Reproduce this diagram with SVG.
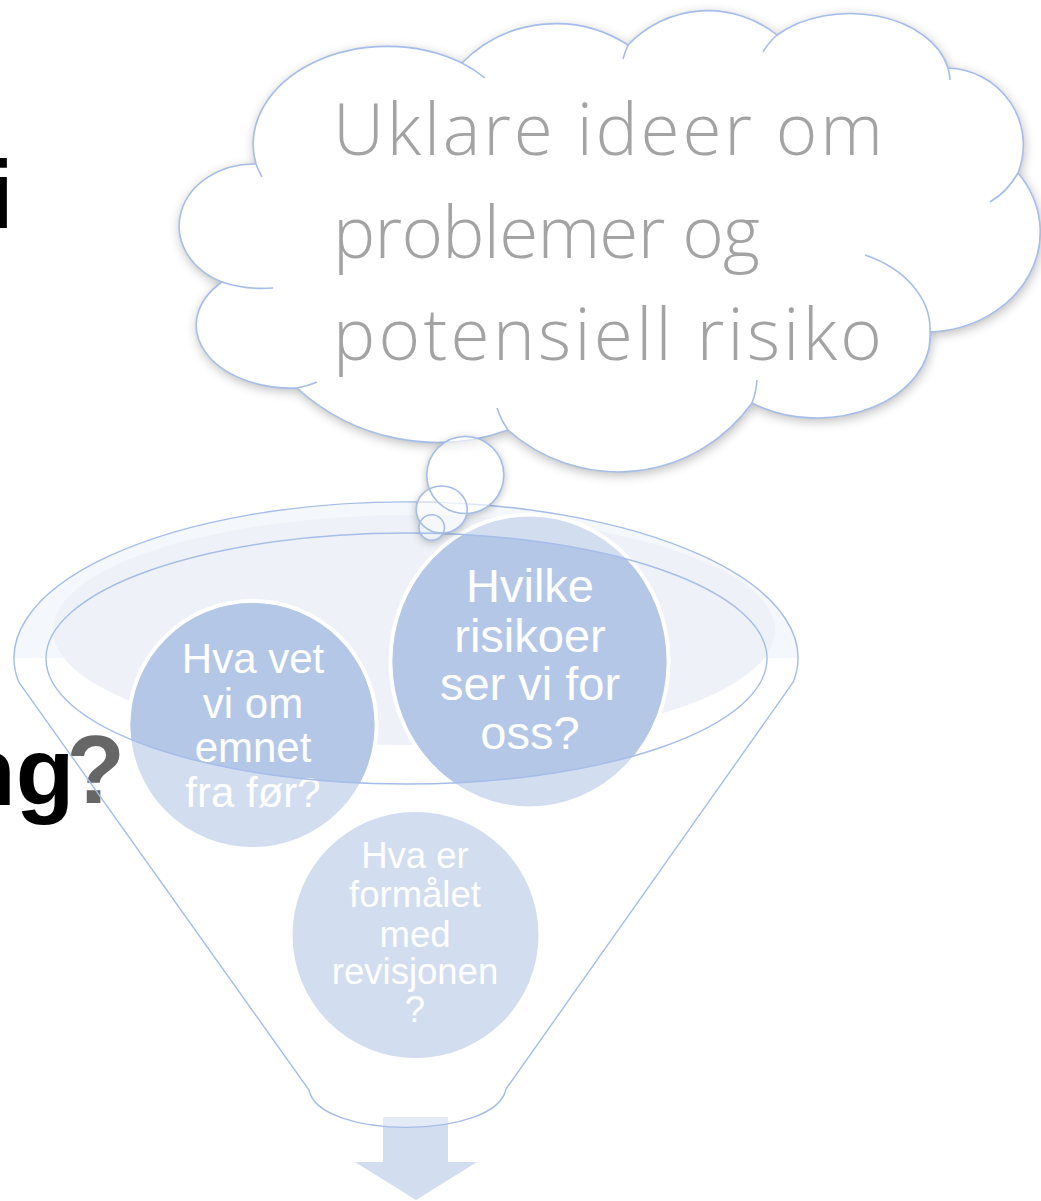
<svg xmlns="http://www.w3.org/2000/svg" width="1041" height="1201" viewBox="0 0 1041 1201">
<defs>
<style>
.title{font-family:"Liberation Sans",Arial,sans-serif;font-weight:bold;font-size:96px}
.ln{fill:none;stroke:#a5bde8;stroke-width:1.4}
.cl{fill:none;stroke:#a5bde8;stroke-width:1.6}
.ct{font-family:"Liberation Sans",Arial,sans-serif;fill:#ffffff;text-anchor:middle}
.cloudtxt{font-family:"Open Sans","DejaVu Sans",sans-serif;font-weight:300;font-size:71px;fill:#a3a3a3}
.dark{fill:#b4c7e7}
.light{fill:#d3ddf0}
</style>
<filter id="sh" x="-20%" y="-20%" width="140%" height="140%">
<feGaussianBlur in="SourceAlpha" stdDeviation="6"/>
<feOffset dx="1" dy="3"/>
<feComponentTransfer><feFuncA type="linear" slope="0.28"/></feComponentTransfer>
<feMerge><feMergeNode/><feMergeNode in="SourceGraphic"/></feMerge>
</filter>
<filter id="shout" x="-40%" y="-40%" width="180%" height="180%">
<feGaussianBlur in="SourceAlpha" stdDeviation="5"/>
<feOffset dx="0" dy="2"/>
<feComposite operator="out" in2="SourceAlpha"/>
<feComponentTransfer><feFuncA type="linear" slope="0.3"/></feComponentTransfer>
</filter>
<clipPath id="inner"><ellipse cx="406.5" cy="658.5" rx="360.5" ry="125.5"/></clipPath>
<clipPath id="bodyclip"><path d="M18.7,682 A392,156 0 1 1 793.3,682 L506,1089 C496,1140 319,1140 309,1090 Z"/></clipPath>
</defs>

<g id="title">
<text class="title" x="-13" y="228" fill="#000">i</text>
<text class="title" x="-43" y="805" fill="#000">ng<tspan fill="#666" dx="-8" dy="-2">?</tspan></text>
</g>

<g id="arrow">
<rect x="383" y="1117" width="65" height="45" fill="#d3ddf0"/>
<polygon points="355,1162 477,1162 416,1200" fill="#d3ddf0"/>
<rect x="383" y="1117" width="65" height="14" fill="#e4eaf6" clip-path="url(#bodyclip)"/>
</g>

<g id="funnel-fill">
<path d="M14,658 A392,156 0 0 1 798,658 Z" fill="#f4f7fb"/>
<ellipse cx="414" cy="630" rx="361" ry="115" fill="#eef2f8"/>
</g>

<g id="node-hva-vet">
<circle cx="252.5" cy="725" r="124" class="light" stroke="#fff" stroke-width="4"/>
<circle cx="252.5" cy="725" r="122" class="dark" clip-path="url(#inner)"/>
<text class="ct" font-size="42"><tspan x="253" y="673">Hva vet</tspan><tspan x="253" y="718">vi om</tspan><tspan x="253" y="762">emnet</tspan><tspan x="253" y="807">fra før?</tspan></text>
</g>

<g id="node-hvilke">
<ellipse cx="529.5" cy="661.5" rx="139" ry="147" class="light" stroke="#fff" stroke-width="4"/>
<ellipse cx="529.5" cy="661.5" rx="137" ry="145" class="dark" clip-path="url(#inner)"/>
<text class="ct" font-size="47"><tspan x="530" y="602">Hvilke</tspan><tspan x="530" y="652">risikoer</tspan><tspan x="530" y="700">ser vi for</tspan><tspan x="530" y="749">oss?</tspan></text>
</g>

<g id="node-formal">
<circle cx="415.5" cy="935" r="123" class="light"/>
<text class="ct" font-size="36.5"><tspan x="415" y="868">Hva er</tspan><tspan x="415" y="907">formålet</tspan><tspan x="415" y="947">med</tspan><tspan x="415" y="984">revisjonen</tspan><tspan x="415" y="1022">?</tspan></text>
</g>

<g id="connectors">
<path class="ln" d="M18.7,682 A392,156 0 1 1 793.3,682 L506,1089 C496,1140 319,1140 309,1090 Z"/>
<ellipse class="ln" cx="406.5" cy="658.5" rx="360.5" ry="125.5"/>
</g>

<g id="cloud">
<path d="M256,164 A134,98 0 0 1 462,63 A132,132 0 0 1 628,45 A110,110 0 0 1 777,35 A100,68 0 0 1 948,68 A78,77 0 0 1 1018,173 A115,100 0 0 1 930,332 A113,82 0 0 1 752,403 A165,165 0 0 1 508,430 A208,208 0 0 1 297,388 A95,63 0 0 1 222,282 A75,62 0 0 1 256,164 Z" fill="#fff" filter="url(#sh)"/>
<path class="cl" d="M256,164 A134,98 0 0 1 462,63 A132,132 0 0 1 628,45 A110,110 0 0 1 777,35 A100,68 0 0 1 948,68 A78,77 0 0 1 1018,173 A115,100 0 0 1 930,332 A113,82 0 0 1 752,403 A165,165 0 0 1 508,430 A208,208 0 0 1 297,388 A95,63 0 0 1 222,282 A75,62 0 0 1 256,164 Z"/>
<path class="cl" d="M462,63 A134,98 0 0 1 485,78 M256,164 A134,98 0 0 0 262,177 M628,45 A110,110 0 0 0 623,59 M777,35 A100,68 0 0 0 763,52 M948,68 A100,68 0 0 1 950,80 M1018,173 A78,77 0 0 1 990,202 M865,255 A113,82 0 0 1 930,332 M757,380 Q756,393 752,403 M508,430 Q501,420 497,408 M297,388 Q308,386 317,382 M222,282 Q245,290 273,288"/>
<text class="cloudtxt" x="333" y="155" textLength="550">Uklare ideer om</text>
<text class="cloudtxt" x="333" y="258" textLength="427">problemer og</text>
<text class="cloudtxt" x="333" y="360" textLength="549">potensiell risiko</text>
</g>

<g id="bubbles">
<g filter="url(#shout)" fill="#fff">
<circle cx="465.3" cy="475" r="38.5"/>
<ellipse cx="441.7" cy="509.5" rx="25.5" ry="23.5"/>
<circle cx="431.7" cy="527.5" r="12.7"/>
</g>
<circle cx="465.3" cy="475" r="38.5" fill="#fff" fill-opacity="0.6"/>
<ellipse cx="441.7" cy="509.5" rx="25.5" ry="23.5" fill="#fff" fill-opacity="0.4"/>
<circle class="cl" cx="465.3" cy="475" r="38.5"/>
<ellipse class="cl" cx="441.7" cy="509.5" rx="25.5" ry="23.5"/>
<circle class="cl" cx="431.7" cy="527.5" r="12.7"/>
</g>
</svg>
